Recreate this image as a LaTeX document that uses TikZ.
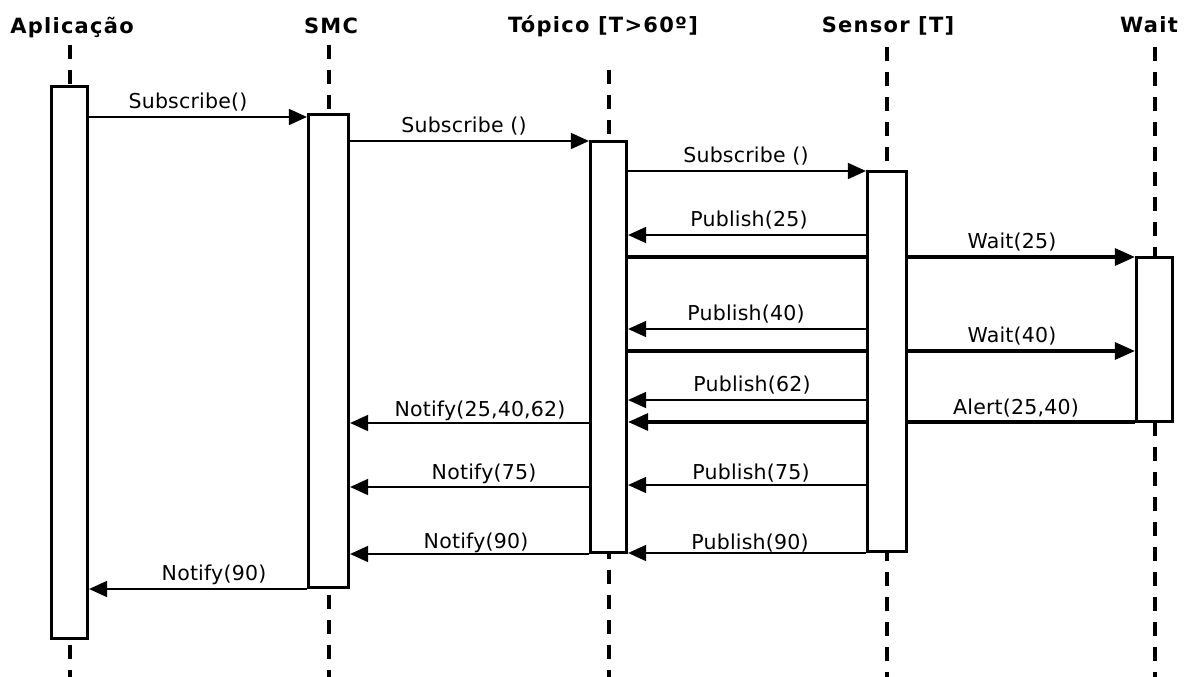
\documentclass[tikz,border=0pt]{standalone}
\usepackage{fontspec}
\setmainfont{DejaVu Sans}
\newfontfamily\lblfont[LetterSpace=1]{DejaVu Sans}
\newfontfamily\hdrfont[LetterSpace=6]{DejaVu Sans}
\usetikzlibrary{arrows.meta}
\pgfdeclarelayer{bg}
\pgfsetlayers{bg,main}
\begin{document}
\begin{tikzpicture}[x=1pt,y=-1pt,
  act/.style={draw,line width=3.2pt,fill=white,inner sep=0pt},
  life/.style={line width=4pt,dash pattern=on 14pt off 11pt},
  msg/.style={line width=1.7pt,-{Triangle[length=18pt,width=16pt]}},
  tmsg/.style={line width=3.2pt,-{Triangle[length=20pt,width=17pt]}},
  lbl/.style={anchor=base,font=\lblfont\fontsize{20.5}{24}\selectfont,inner sep=0pt},
  hdr/.style={anchor=base,font=\hdrfont\bfseries\fontsize{21}{25}\selectfont,inner sep=0pt}]
\useasboundingbox (0,0) rectangle (1186,677);

% activation boxes
\node[act,minimum width=36pt,minimum height=552pt] (apl) at (69.5,362.5) {};
\node[act,minimum width=40pt,minimum height=473pt] (smc) at (328.5,351) {};
\node[act,minimum width=36pt,minimum height=411pt] (top) at (608.5,347) {};
\node[act,minimum width=39pt,minimum height=380pt] (sen) at (887,361.5) {};
\node[act,minimum width=36pt,minimum height=164pt] (wai) at (1154.5,339.5) {};

% headers
\node[hdr] (hapl) at (72,34) {Aplicação};
\node[hdr] (hsmc) at (331,34) {SMC};
\node[hdr] (htop) at (603,33) {Tópico [T>60º]};
\node[hdr] (hsen) at (888,33) {Sensor [T]};
\node[hdr] (hwai) at (1149,33) {Wait};

% lifeline end points
\coordinate (aplT) at (apl |- 0,45);  \coordinate (aplB) at (apl |- 0,677);
\coordinate (smcT) at (smc |- 0,45);  \coordinate (smcB) at (smc |- 0,677);
\coordinate (topT) at (top |- 0,70);  \coordinate (topB) at (top |- 0,677);
\coordinate (senT) at (sen |- 0,47);  \coordinate (senB) at (sen |- 0,677);
\coordinate (waiT) at (wai |- 0,47);  \coordinate (waiB) at (wai |- 0,677);

\begin{pgfonlayer}{bg}
\draw[life] (aplT) -- (aplB);
\draw[life] (smcT) -- (smcB);
\draw[life] (topT) -- (topB);
\draw[life] (senT) -- (senB);
\draw[life] (waiT) -- (waiB);
% thick messages passing behind the sensor box
\draw[tmsg] (top.east |- 0,257) -- (wai.west |- 0,257);
\draw[tmsg] (top.east |- 0,351) -- (wai.west |- 0,351);
\draw[tmsg] (wai.west |- 0,422) -- (top.east |- 0,422);
\end{pgfonlayer}

% thin messages
\draw[msg] (apl.east |- 0,117) -- (smc.west |- 0,117);
\draw[msg] (smc.east |- 0,141) -- (top.west |- 0,141);
\draw[msg] (top.east |- 0,171) -- (sen.west |- 0,171);
\draw[msg] (sen.west |- 0,235) -- (top.east |- 0,235);
\draw[msg] (sen.west |- 0,329) -- (top.east |- 0,329);
\draw[msg] (sen.west |- 0,400) -- (top.east |- 0,400);
\draw[msg] (top.west |- 0,423) -- (smc.east |- 0,423);
\draw[msg] (top.west |- 0,487) -- (smc.east |- 0,487);
\draw[msg] (sen.west |- 0,485) -- (top.east |- 0,485);
\draw[msg] (top.west |- 0,554) -- (smc.east |- 0,554);
\draw[msg] (sen.west |- 0,553) -- (top.east |- 0,553);
\draw[msg] (smc.west |- 0,589) -- (apl.east |- 0,589);

% labels
\node[lbl] (l1) at (188,108) {Subscribe()};
\node[lbl] (l2) at (464,132) {Subscribe ()};
\node[lbl] (l3) at (746,162) {Subscribe ()};
\node[lbl] (l4) at (749,226) {Publish(25)};
\node[lbl] (l5) at (1012,248) {Wait(25)};
\node[lbl] (l6) at (746,320) {Publish(40)};
\node[lbl] (l7) at (1012,342) {Wait(40)};
\node[lbl] (l8) at (752,391) {Publish(62)};
\node[lbl] (l9) at (1016,414) {Alert(25,40)};
\node[lbl] (l10) at (480,416) {Notify(25,40,62)};
\node[lbl] (l11) at (484,479) {Notify(75)};
\node[lbl] (l12) at (751,479) {Publish(75)};
\node[lbl] (l13) at (476,548) {Notify(90)};
\node[lbl] (l14) at (750,549) {Publish(90)};
\node[lbl] (l15) at (214,580) {Notify(90)};
\end{tikzpicture}
\end{document}
